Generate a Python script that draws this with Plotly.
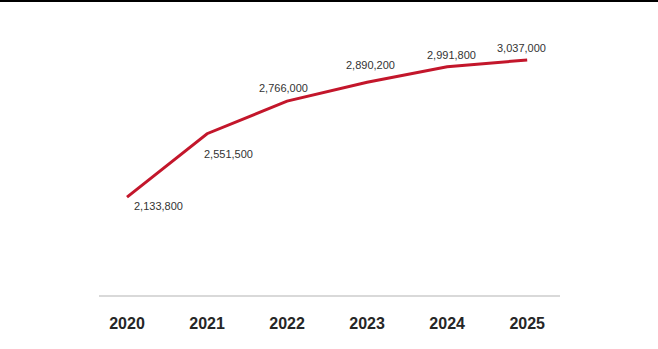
import plotly.graph_objects as go

# Yearly totals
years = ["2020", "2021", "2022", "2023", "2024", "2025"]
totals = [2133800, 2551500, 2766000, 2890200, 2991800, 3037000]

# Pixel offsets of each value label from its point (x right, y up)
label_dx = [31, 21, -4, 3, 4, -6]
label_dy = [-9, -20, 13, 17, 12, 12]

W, H = 658, 349
ML, MR, MT, MB = 99, 98, 20, 54
PW = W - ML - MR
PH = H - MT - MB

FONT = "Liberation Sans, Arial, sans-serif"

fig = go.Figure()
fig.add_trace(go.Scatter(
    x=years, y=totals, mode="lines",
    line=dict(color="#c3162b", width=3),
    hoverinfo="x+y", showlegend=False,
))

annotations = []
for i, (v, dx, dy) in enumerate(zip(totals, label_dx, label_dy)):
    # category axis: place by category index
    annotations.append(dict(
        x=i, y=v, xref="x", yref="y",
        text=f"{v:,}", showarrow=False,
        xanchor="center", yanchor="middle",
        xshift=dx, yshift=dy,
        font=dict(family=FONT, size=11, color="#333333"),
    ))

fig.update_layout(
    width=W, height=H,
    margin=dict(l=ML, r=MR, t=MT, b=MB, pad=0),
    paper_bgcolor="white", plot_bgcolor="white",
    annotations=annotations,
    shapes=[
        # dark rule across the top edge
        dict(type="rect", xref="paper", yref="paper",
             x0=-ML / PW, x1=(W - ML) / PW,
             y0=1 + (MT - 2) / PH, y1=1 + MT / PH,
             fillcolor="black", line=dict(width=0), layer="above"),
    ],
    xaxis=dict(
        type="category", range=[-0.35, 5.41],
        showgrid=False, zeroline=False,
        showline=True, linecolor="#d9d9d9", linewidth=2,
        ticks="", ticklabelstandoff=13,
        tickfont=dict(family=FONT, size=16, color="#262626", weight="bold"),
    ),
    yaxis=dict(
        range=[1490000, 3300000],
        showgrid=False, zeroline=False, showline=False,
        showticklabels=False, ticks="",
    ),
)

fig.write_html("out.html")
